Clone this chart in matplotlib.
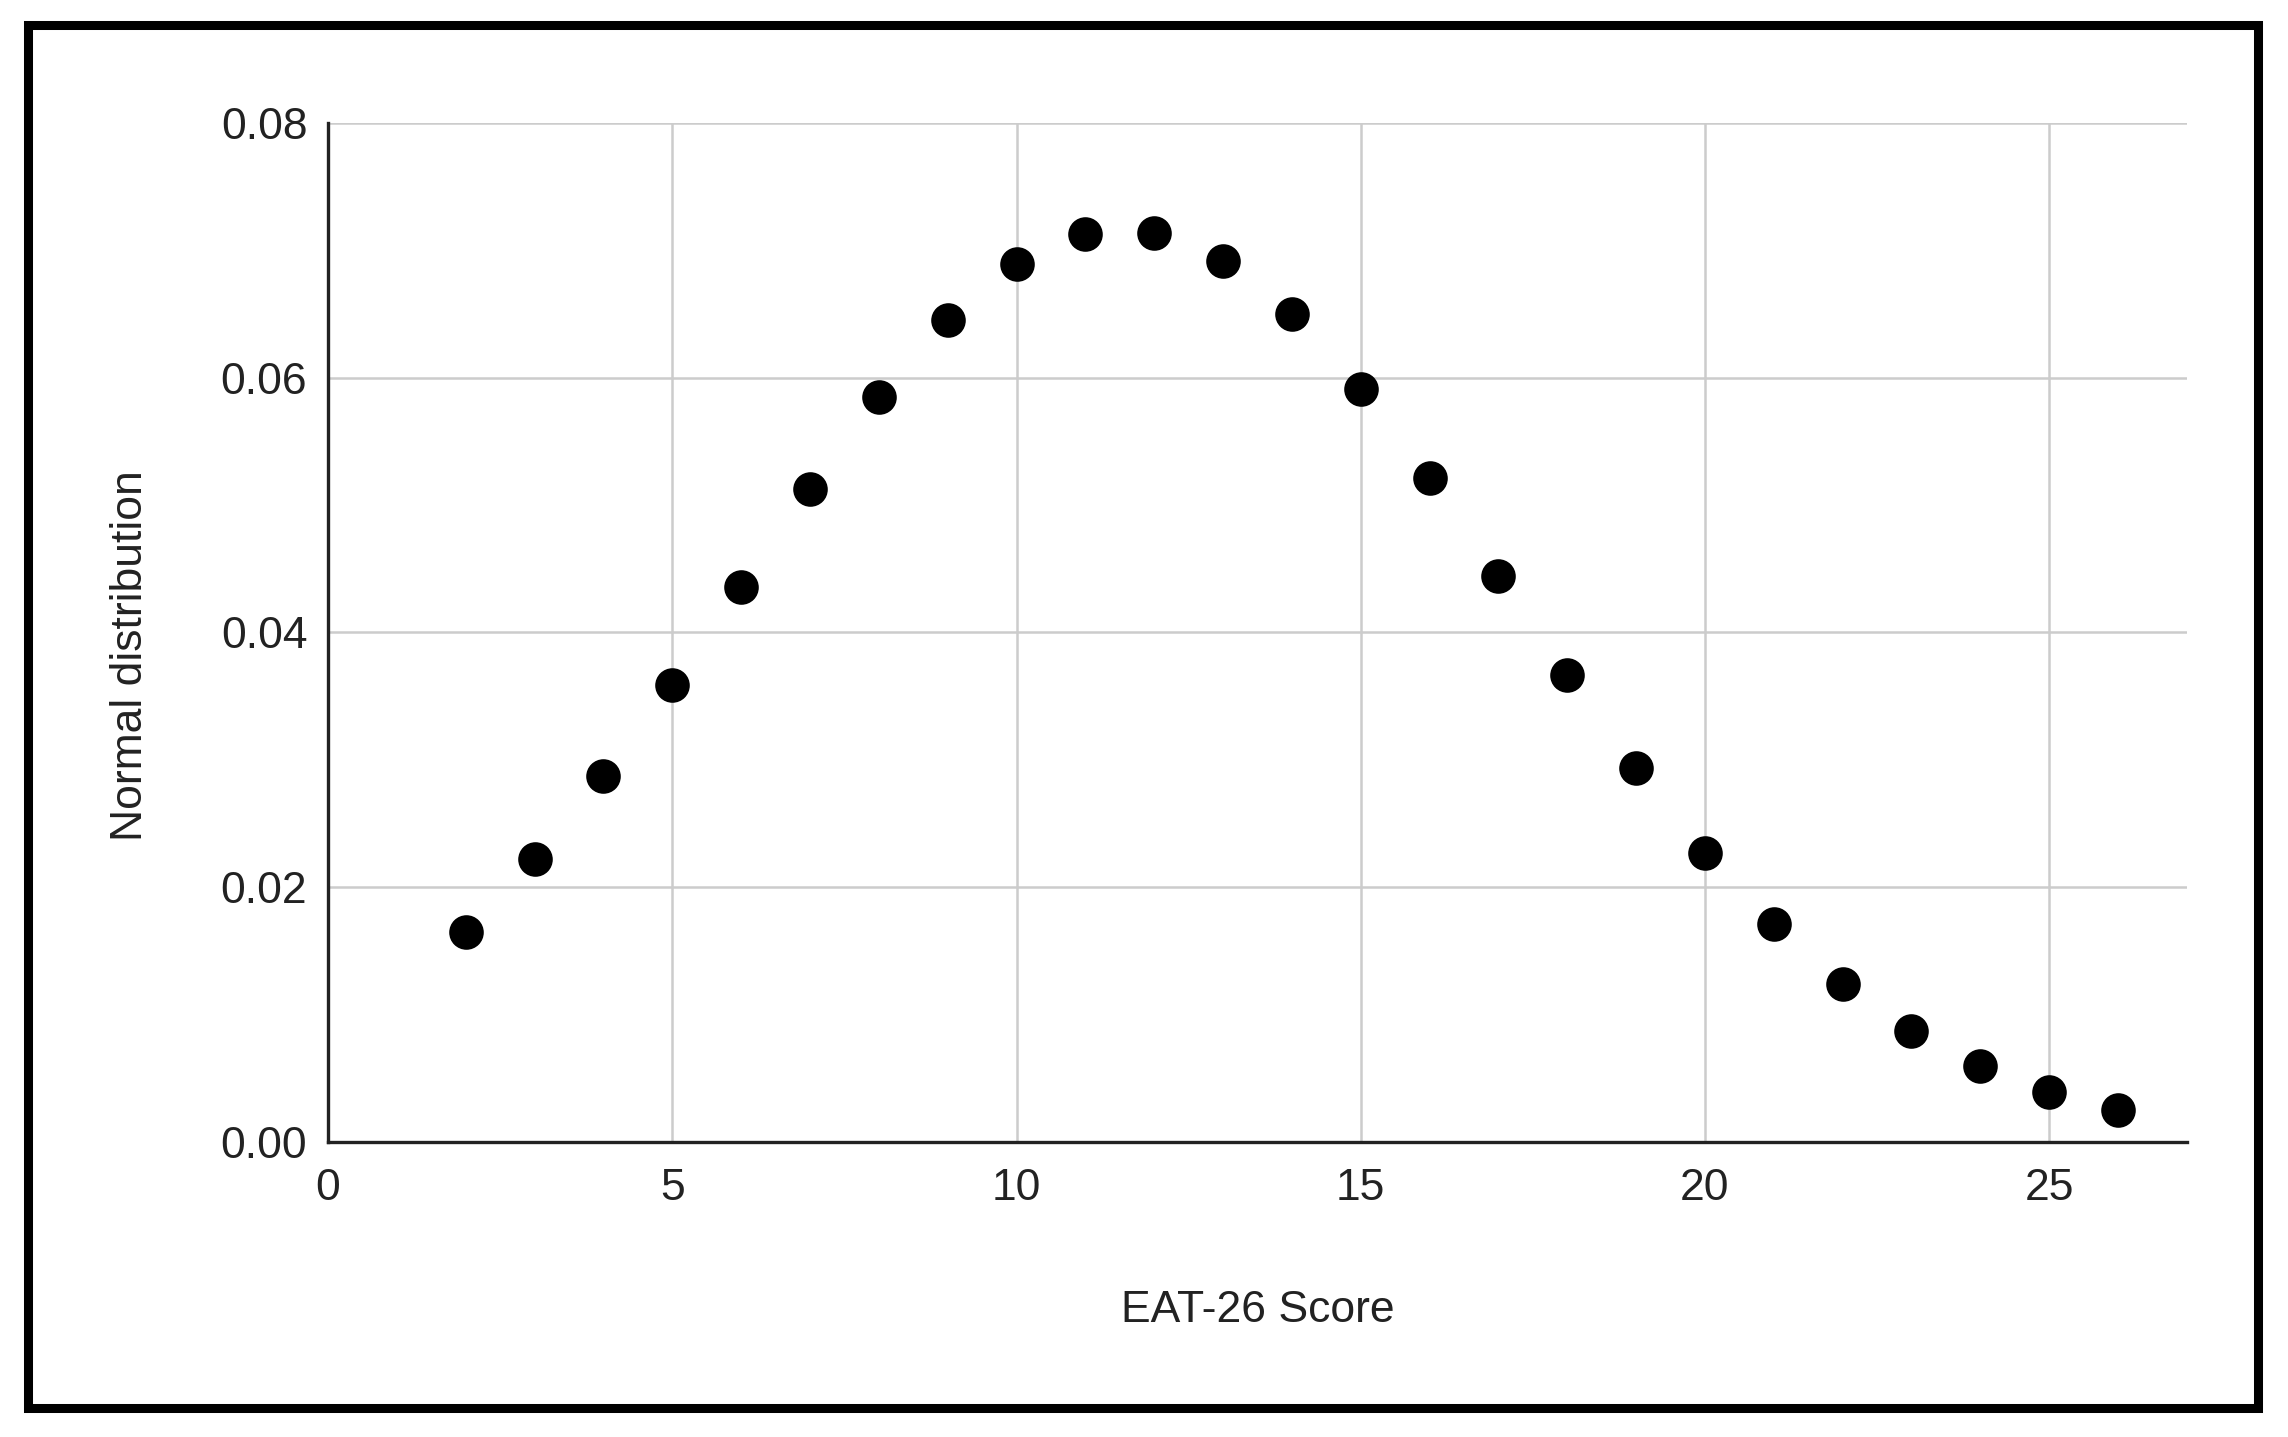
import matplotlib
matplotlib.use("Agg")
import matplotlib.pyplot as plt
from matplotlib.patches import Rectangle

plt.rcParams['font.family'] = ['Liberation Sans', 'DejaVu Sans']

scores = [2, 3, 4, 5, 6, 7, 8, 9, 10, 11, 12, 13, 14, 15, 16, 17, 18, 19, 20, 21, 22, 23, 24, 25, 26]
density = [0.0165, 0.0222, 0.0287, 0.0359, 0.0436, 0.0513, 0.0585, 0.0645, 0.0689, 0.0713, 0.0714,
           0.0692, 0.0650, 0.0591, 0.0521, 0.0444, 0.0367, 0.0294, 0.0227, 0.0171, 0.0124,
           0.0087, 0.0060, 0.0039, 0.0025]
x_ticks = [0, 5, 10, 15, 20, 25]
y_ticks = [0.00, 0.02, 0.04, 0.06, 0.08]
y_tick_labels = ["0.00", "0.02", "0.04", "0.06", "0.08"]

fig = plt.figure(figsize=(22.88, 14.37), dpi=100)
ax = fig.add_axes([0.1434, 0.2053, 0.8124, 0.7091])

ax.scatter(scores, density, s=620, color='black', zorder=3, clip_on=False, linewidths=0)

ax.set_xlim(0, 27)
ax.set_ylim(0, 0.08)
ax.set_xticks(x_ticks)
ax.set_yticks(y_ticks)
ax.set_yticklabels(y_tick_labels)
ax.tick_params(axis='both', length=0, labelsize=32, colors='#222222')
ax.tick_params(axis='y', pad=15)
ax.tick_params(axis='x', pad=19)
ax.grid(True, color='#cccccc', linewidth=1.8, zorder=0)
ax.set_axisbelow(True)
for side in ['top', 'right']:
    ax.spines[side].set_visible(False)
for side in ['left', 'bottom']:
    ax.spines[side].set_color('#222222')
    ax.spines[side].set_linewidth(2.4)
    ax.spines[side].set_zorder(2.5)

ax.set_xlabel("EAT-26 Score", fontsize=32, color='#222222', labelpad=58)
ax.set_ylabel("Normal distribution", fontsize=32, color='#222222', labelpad=50)
ax.yaxis.label.set_y(0.477)

border = Rectangle((27.5 / 2288, 1 - 1407.5 / 1437), (2258 - 27.5) / 2288, (1407.5 - 24.5) / 1437,
                   transform=fig.transFigure, fill=False, edgecolor='black', linewidth=6.5)
fig.patches.append(border)

fig.savefig("out.png", dpi=100, facecolor='white')
